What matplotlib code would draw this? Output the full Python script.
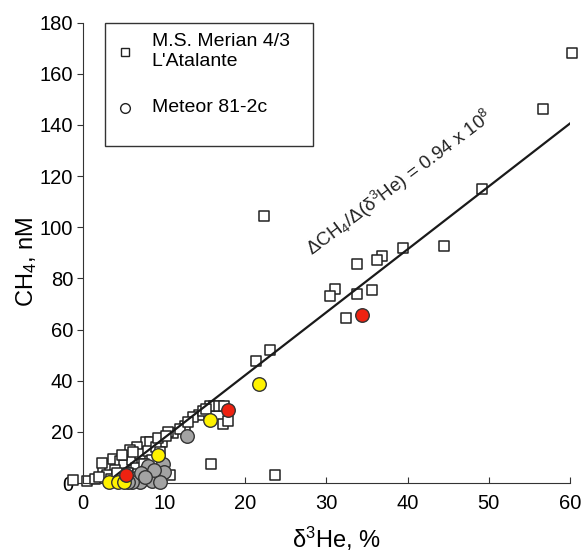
import matplotlib.pyplot as plt
from matplotlib.patches import Rectangle

plt.rcParams['font.family'] = ['Liberation Sans', 'DejaVu Sans']
plt.rcParams['mathtext.default'] = 'regular'

# M.S. Merian 4/3 / L'Atalante (open squares)
sq_x = [60.3, 56.7, 49.1, 44.5, 39.4, 36.8, 36.2, 33.8, 31.0, 30.4, 33.8, 35.6, 32.4,
        22.3, 23.0, 21.3, 23.7, 15.8, 17.2, 17.9,
        15.6, 16.2, 16.8, 17.4, 14.3, 13.6, 12.6, 11.1, 11.9, 7.8, 10.5, 13.0, 14.8, 15.2,
        -1.2, 0.45, 1.5, 2.5, 3.3, 2.3, 3.7, 5.8, 6.6, 8.3, 9.7, 7.6, 5.8, 10.7, 4.5, 5.0,
        6.0, 7.0, 8.0, 9.0, 4.0, 3.0, 6.5, 8.5, 9.5, 2.0, 3.5, 5.5, 7.5, 6.2, 4.8, 9.2,
        10.2, 5.2, 6.8, 4.2]
sq_y = [168.2, 146.1, 114.9, 92.8, 91.8, 88.6, 87.3, 85.6, 75.8, 73.2, 74.0, 75.3, 64.7,
        104.4, 52.2, 47.7, 3.1, 7.4, 23.2, 24.3,
        30.1, 30.1, 30.1, 30.1, 26.5, 25.7, 22.2, 19.4, 21.0, 16.2, 20.0, 24.0, 28.0, 29.0,
        1.0, 0.9, 1.6, 4.8, 6.7, 8.0, 9.3, 10.6, 13.9, 15.9, 15.9, 10.0, 12.9, 3.1, 8.5, 7.0,
        9.0, 11.5, 12.5, 14.0, 5.0, 3.0, 6.0, 9.0, 12.0, 2.5, 1.5, 4.0, 7.5, 12.0, 11.0, 17.5,
        18.5, 2.0, 3.5, 3.8]

# Meteor 81-2c (filled circles, three colour groups)
gray_x = [12.8, 9.9, 7.8, 7.4, 8.2, 9.0, 10.0, 6.5, 7.0, 8.5, 6.0, 5.5, 8.0, 7.2, 9.5, 8.7, 7.6]
gray_y = [18.2, 7.4, 5.2, 1.5, 3.0, 2.0, 4.5, 2.0, 0.5, 0.8, 0.3, 0.5, 6.5, 3.8, 0.5, 5.1, 2.5]
yellow_x = [21.7, 15.6, 9.2, 3.2, 4.3, 5.0]
yellow_y = [38.7, 24.8, 10.9, 0.3, 0.3, 0.3]
red_x = [34.4, 17.9, 5.3]
red_y = [65.8, 28.4, 3.0]

# regression line
slope = 2.46
intercept = -7.0
fit_x = [-intercept / slope, 60]
fit_y = [slope * x + intercept for x in fit_x]

fig = plt.figure(figsize=(5.86, 5.55), dpi=100)
ax = fig.add_axes([0.1416, 0.1297, 0.8311, 0.8294])

ax.scatter(sq_x, sq_y, marker='s', s=62, facecolor='white', edgecolor='#222222',
           linewidth=1.1, zorder=2, clip_on=False)
ax.plot(fit_x, fit_y, color='#1a1a1a', lw=1.6, zorder=3)
ck = dict(marker='o', s=95, edgecolor='#333333', linewidth=1.0, zorder=4, clip_on=False)
ax.scatter(gray_x, gray_y, facecolor='#a3a3a3', **ck)
ax.scatter(yellow_x, yellow_y, facecolor='#fff200', **ck)
ax.scatter(red_x, red_y, facecolor='#ee2211', **ck)

ax.set_xlim(0, 60)
ax.set_ylim(0, 180)
ax.set_xticks(range(0, 61, 10))
ax.set_yticks(range(0, 181, 20))
for s in ['top', 'right']:
    ax.spines[s].set_visible(False)
ax.spines['left'].set_color('#333333')
ax.spines['bottom'].set_color('#333333')
ax.tick_params(axis='x', direction='in', length=4, pad=8, labelsize=14.5, color='#333333')
ax.tick_params(axis='y', direction='out', length=4, pad=3, labelsize=14.5, color='#333333')

ax.set_xlabel('δ$^3$He, %', fontsize=17)
ax.xaxis.label.set_va('center')
ax.xaxis.set_label_coords(0.52, -0.122)
ax.set_ylabel('CH$_4$, nM', fontsize=17)
ax.yaxis.label.set_va('center')
ax.yaxis.set_label_coords(-0.115, 0.48)

ax.text(28.3, 88.5, 'ΔCH$_4$/Δ(δ$^3$He) = 0.94 x 10$^8$', fontsize=13.5, color='#222222',
        rotation=37, rotation_mode='anchor', ha='left', va='baseline')

# legend box
ax.add_patch(Rectangle((0.045, 0.732), 0.427, 0.268, transform=ax.transAxes,
                       facecolor='white', edgecolor='#333333', lw=1.0, zorder=5, clip_on=False))
ax.plot([0.086], [0.937], marker='s', ms=5.5, mfc='white', mec='#222222', mew=1.0,
        transform=ax.transAxes, zorder=6, clip_on=False)
ax.plot([0.086], [0.815], marker='o', ms=7, mfc='white', mec='#222222', mew=1.0,
        transform=ax.transAxes, zorder=6, clip_on=False)
ax.text(0.141, 0.937, "M.S. Merian 4/3\nL'Atalante", fontsize=14, linespacing=1.2,
        transform=ax.transAxes, va='center', ha='left', zorder=6)
ax.text(0.141, 0.815, 'Meteor 81-2c', fontsize=14, transform=ax.transAxes,
        va='center', ha='left', zorder=6)

fig.savefig('out.png', dpi=100)
